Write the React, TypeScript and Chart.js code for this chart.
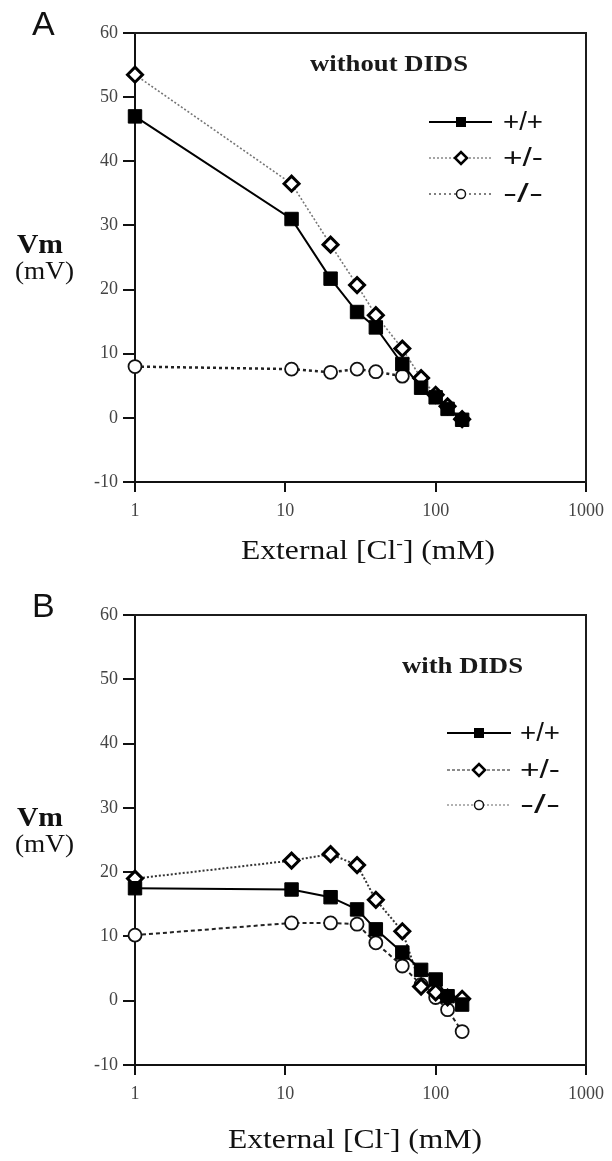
import React, { useEffect, useRef } from "react";
import { Chart, registerables } from "chart.js";

Chart.register(...registerables);

// ---------------- data ----------------
const concentrationsMM = [1, 11, 20, 30, 40, 60, 80, 100, 120, 150];
const concentrationsKoWithout = [1, 11, 20, 30, 40, 60];

const vmWithoutDidsWT = [47, 31, 21.7, 16.5, 14.1, 8.4, 4.7, 3.2, 1.4, -0.3];
const vmWithoutDidsHet = [53.5, 36.5, 27, 20.7, 16, 10.8, 6.2, 3.6, 1.8, -0.2];
const vmWithoutDidsKO = [8, 7.6, 7.1, 7.6, 7.2, 6.5];

const vmWithDidsWT = [17.5, 17.3, 16.1, 14.2, 11.1, 7.5, 4.8, 3.3, 0.7, -0.6];
const vmWithDidsHet = [19, 21.8, 22.8, 21.1, 15.7, 10.8, 2.2, 1.3, 0.5, 0.3];
const vmWithDidsKO = [10.2, 12.1, 12.1, 11.9, 9, 5.4, 2.5, 0.5, -1.4, -4.8];

const genotypeLabels = ["+/+", "+/-", "-/-"];
const xTickValues = [1, 10, 100, 1000];
const yTickMin = -10;
const yTickMax = 60;
const yTickStep = 10;
const yTitleMain = "Vm";
const yTitleUnit = "(mV)";
const xTitleParts = ["External [Cl", "-", "] (mM)"];
const panelLetters = ["A", "B"];
const panelConditions = ["without DIDS", "with DIDS"];

// ---------------- helpers ----------------
const toXY = (xs: number[], ys: number[]) => xs.map((x, i) => ({ x, y: ys[i] }));

type LegendStyle = { color: string; width: number; dash: number[]; marker: "square" | "diamond" | "circle" };

type PanelSpec = {
  top: number;
  height: number;
  plotTop: number;
  plotBottom: number;
  letter: string;
  condition: string;
  conditionX: number;
  conditionY: number;
  conditionW: number;
  vmY: number;
  unitY: number;
  titleCx: number;
  titleY: number;
  legendX1: number;
  legendX2: number;
  legendMX: number;
  legendLX: number;
  legendRows: number[];
  legendStyles: LegendStyle[];
  datasets: any[];
};

const PLOT_LEFT = 135;
const PLOT_RIGHT = 588;
const W = 612;

function drawStretched(ctx: CanvasRenderingContext2D, text: string, x: number, y: number, width?: number) {
  const w = ctx.measureText(text).width;
  ctx.save();
  ctx.translate(x, y);
  if (width) ctx.scale(width / w, 1);
  ctx.fillText(text, 0, 0);
  ctx.restore();
}

function makeDecor(spec: PanelSpec) {
  return {
    id: "decor" + spec.letter,
    beforeDatasetsDraw(chart: any) {
      const { ctx, chartArea } = chart;
      const { left, right, top, bottom } = chartArea;
      ctx.save();
      ctx.strokeStyle = "#1c1c1c";
      ctx.lineWidth = 2;
      ctx.beginPath();
      ctx.moveTo(left - 1, top);
      ctx.lineTo(right, top);
      ctx.lineTo(right, bottom + 1);
      ctx.stroke();
      ctx.restore();
    },
    afterDraw(chart: any) {
      const ctx: CanvasRenderingContext2D = chart.ctx;
      ctx.save();
      ctx.textAlign = "left";
      ctx.textBaseline = "alphabetic";
      ctx.fillStyle = "#111";

      // panel letter
      ctx.font = '34px "Liberation Sans", Arial, sans-serif';
      ctx.fillText(spec.letter, 32, spec.plotTop + 2);

      // condition text
      ctx.font = 'bold 23px "Liberation Serif", "Times New Roman", serif';
      ctx.fillStyle = "#1a1a1a";
      drawStretched(ctx, spec.condition, spec.conditionX, spec.conditionY, spec.conditionW);

      // y title
      ctx.fillStyle = "#111";
      ctx.font = 'bold 28px "Liberation Serif", "Times New Roman", serif';
      drawStretched(ctx, yTitleMain, 17, spec.vmY, 46);
      ctx.font = '25px "Liberation Serif", "Times New Roman", serif';
      drawStretched(ctx, yTitleUnit, 15, spec.unitY, 59);

      // x title with superscript minus
      const mainFont = '27px "Liberation Serif", "Times New Roman", serif';
      const supFont = '17px "Liberation Serif", "Times New Roman", serif';
      ctx.font = mainFont;
      const w0 = ctx.measureText(xTitleParts[0]).width;
      const w2 = ctx.measureText(xTitleParts[2]).width;
      ctx.font = supFont;
      const w1 = ctx.measureText(xTitleParts[1]).width;
      const natural = w0 + w1 + w2;
      const target = 254;
      const sx = target / natural;
      const startX = spec.titleCx - target / 2;
      ctx.save();
      ctx.translate(startX, spec.titleY);
      ctx.scale(sx, 1);
      ctx.font = mainFont;
      ctx.fillText(xTitleParts[0], 0, 0);
      ctx.font = supFont;
      ctx.fillText(xTitleParts[1], w0, -10);
      ctx.font = mainFont;
      ctx.fillText(xTitleParts[2], w0 + w1, 0);
      ctx.restore();

      // legend
      spec.legendStyles.forEach((st, i) => {
        const y = spec.legendRows[i];
        ctx.save();
        ctx.strokeStyle = st.color;
        ctx.lineWidth = st.width;
        ctx.setLineDash(st.dash);
        ctx.beginPath();
        ctx.moveTo(spec.legendX1, y);
        ctx.lineTo(spec.legendX2, y);
        ctx.stroke();
        ctx.setLineDash([]);
        const mx = spec.legendMX;
        if (st.marker === "square") {
          ctx.fillStyle = "#000";
          ctx.fillRect(mx - 5, y - 5, 10, 10);
        } else if (st.marker === "diamond") {
          ctx.fillStyle = "#fff";
          ctx.strokeStyle = "#000";
          ctx.lineWidth = 2.5;
          ctx.beginPath();
          ctx.moveTo(mx - 6, y);
          ctx.lineTo(mx, y - 6);
          ctx.lineTo(mx + 6, y);
          ctx.lineTo(mx, y + 6);
          ctx.closePath();
          ctx.fill();
          ctx.stroke();
        } else {
          ctx.fillStyle = "#fff";
          ctx.strokeStyle = "#111";
          ctx.lineWidth = 1.5;
          ctx.beginPath();
          ctx.arc(mx, y, 4.5, 0, Math.PI * 2);
          ctx.fill();
          ctx.stroke();
        }
        ctx.fillStyle = "#111";
        ctx.font = '25px "Liberation Sans", Arial, sans-serif';
        ctx.textBaseline = "middle";
        drawStretched(ctx, genotypeLabels[i], spec.legendLX, y + 1, 40);
        ctx.restore();
      });
      ctx.restore();
    },
  };
}

function wtStyle(data: any[]) {
  return {
    label: genotypeLabels[0],
    data,
    borderColor: "#000",
    borderWidth: 2,
    pointStyle: "rect",
    pointRadius: 9.5,
    pointBackgroundColor: "#000",
    pointBorderColor: "#000",
    pointBorderWidth: 1,
    tension: 0,
    clip: false,
  };
}

function hetStyle(data: any[], color: string, dash: number[], width: number) {
  return {
    label: genotypeLabels[1],
    data,
    borderColor: color,
    borderWidth: width,
    borderDash: dash,
    pointStyle: "rectRot",
    pointRadius: 7.5,
    pointBackgroundColor: "#fff",
    pointBorderColor: "#000",
    pointBorderWidth: 3,
    tension: 0,
    clip: false,
  };
}

function koStyle(data: any[], color: string, dash: number[], width: number) {
  return {
    label: genotypeLabels[2],
    data,
    borderColor: color,
    borderWidth: width,
    borderDash: dash,
    pointStyle: "circle",
    pointRadius: 6.5,
    pointBackgroundColor: "#fff",
    pointBorderColor: "#111",
    pointBorderWidth: 1.8,
    tension: 0,
    clip: false,
  };
}

const panelA: PanelSpec = {
  top: 0,
  height: 580,
  plotTop: 33,
  plotBottom: 482,
  letter: panelLetters[0],
  condition: panelConditions[0],
  conditionX: 310,
  conditionY: 71,
  conditionW: 158,
  vmY: 253,
  unitY: 279,
  titleCx: 368,
  titleY: 559,
  legendX1: 429,
  legendX2: 492,
  legendMX: 461,
  legendLX: 503,
  legendRows: [122, 158, 194],
  legendStyles: [
    { color: "#000", width: 2, dash: [], marker: "square" },
    { color: "#888", width: 1.5, dash: [2, 2], marker: "diamond" },
    { color: "#555", width: 1.5, dash: [2, 3], marker: "circle" },
  ],
  datasets: [
    wtStyle(toXY(concentrationsMM, vmWithoutDidsWT)),
    hetStyle(toXY(concentrationsMM, vmWithoutDidsHet), "#777", [2, 2], 1.6),
    koStyle(toXY(concentrationsKoWithout, vmWithoutDidsKO), "#222", [3, 3], 2.5),
  ],
};

const panelB: PanelSpec = {
  top: 580,
  height: 581,
  plotTop: 35,
  plotBottom: 485,
  letter: panelLetters[1],
  condition: panelConditions[1],
  conditionX: 402,
  conditionY: 93,
  conditionW: 121,
  vmY: 246,
  unitY: 272,
  titleCx: 355,
  titleY: 568,
  legendX1: 447,
  legendX2: 511,
  legendMX: 479,
  legendLX: 520,
  legendRows: [153, 190, 225],
  legendStyles: [
    { color: "#000", width: 2, dash: [], marker: "square" },
    { color: "#666", width: 1.5, dash: [3, 2], marker: "diamond" },
    { color: "#999", width: 1.5, dash: [2, 2], marker: "circle" },
  ],
  datasets: [
    wtStyle(toXY(concentrationsMM, vmWithDidsWT)),
    hetStyle(toXY(concentrationsMM, vmWithDidsHet), "#333", [2, 2], 2),
    koStyle(toXY(concentrationsMM, vmWithDidsKO), "#222", [4, 3], 2),
  ],
};

function Panel({ spec }: { spec: PanelSpec }) {
  const ref = useRef<HTMLCanvasElement>(null);
  useEffect(() => {
    if (!ref.current) return;
    const tickFont = { family: '"Liberation Serif", "Times New Roman", serif', size: 18 };
    const chart = new Chart(ref.current, {
      type: "line",
      data: { datasets: spec.datasets },
      options: {
        animation: false,
        responsive: false,
        devicePixelRatio: 1,
        events: [],
        layout: { padding: { left: 0, top: spec.plotTop, right: W - PLOT_RIGHT, bottom: 0 } },
        plugins: { legend: { display: false }, tooltip: { enabled: false } },
        scales: {
          x: {
            type: "logarithmic",
            min: xTickValues[0],
            max: xTickValues[xTickValues.length - 1],
            afterBuildTicks: (scale: any) => {
              scale.ticks = xTickValues.map((v) => ({ value: v, major: true }));
            },
            afterFit: (scale: any) => {
              scale.height = spec.height - spec.plotBottom;
            },
            ticks: {
              autoSkip: false,
              maxRotation: 0,
              color: "#444",
              font: tickFont,
              padding: 8,
              callback: (v: any) => String(v),
            },
            grid: { drawOnChartArea: false, drawTicks: true, tickLength: 10, color: "#111", lineWidth: 2 },
            border: { display: true, color: "#111", width: 2 },
          },
          y: {
            type: "linear",
            min: yTickMin,
            max: yTickMax,
            afterFit: (scale: any) => {
              scale.width = PLOT_LEFT;
            },
            ticks: { stepSize: yTickStep, color: "#444", font: tickFont, padding: 5 },
            grid: { drawOnChartArea: false, drawTicks: true, tickLength: 12, color: "#111", lineWidth: 2 },
            border: { display: true, color: "#111", width: 2 },
          },
        },
      } as any,
      plugins: [makeDecor(spec)],
    });
    return () => chart.destroy();
  }, []);
  return (
    <canvas
      ref={ref}
      width={W}
      height={spec.height}
      style={{ position: "absolute", left: 0, top: spec.top, width: W, height: spec.height }}
    />
  );
}

export default function App() {
  return (
    <div style={{ position: "absolute", left: 0, top: 0, width: W, height: 1161, background: "#fff", overflow: "hidden" }}>
      <Panel spec={panelA} />
      <Panel spec={panelB} />
    </div>
  );
}
